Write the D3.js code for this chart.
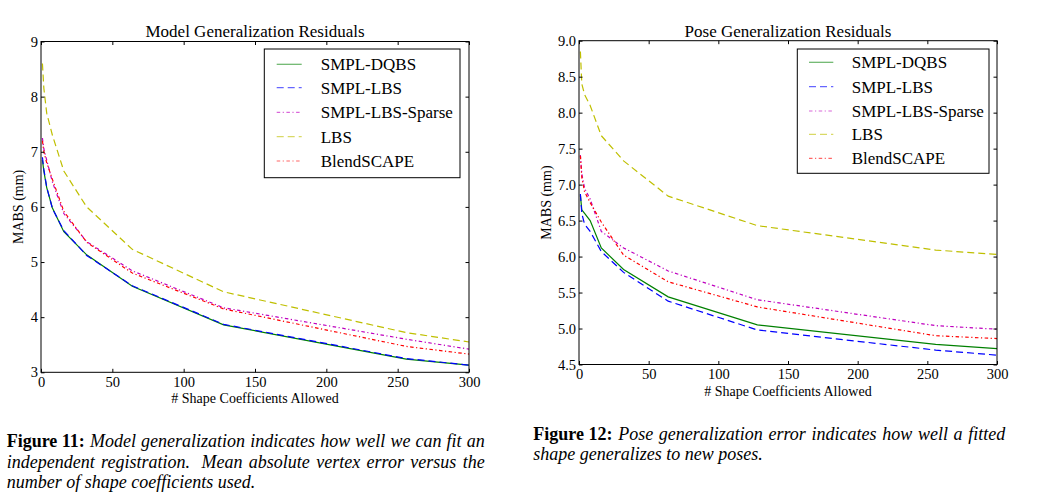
<!DOCTYPE html>
<html><head><meta charset="utf-8">
<script src="https://cdn.jsdelivr.net/npm/d3@7"></script>
<style>
body{margin:0;background:#fff}
svg{display:block}
text{font-family:"Liberation Serif","Times New Roman",serif;fill:#000}
</style>
</head><body><svg id="c" width="1052" height="498"></svg>
<script>
// ---------- data ----------
const shapeCoeffs = [1, 2, 4, 8, 16, 32, 64, 128, 256, 300];
const seriesNames = ["SMPL-DQBS", "SMPL-LBS", "SMPL-LBS-Sparse", "LBS", "BlendSCAPE"];
const seriesColors = ["#008000", "#0000ff", "#bf00bf", "#bfbf00", "#ff0000"];
const seriesDashes = [null, "7,4", "3.5,2.5,1.2,2.5", "7,4", "3.5,2.5,1.2,2.5"];

// Model generalization (MABS mm)
const modelDQBS       = [6.85, 6.65, 6.35, 5.98, 5.55, 5.13, 4.56, 3.86, 3.24, 3.13];
const modelLBS        = [6.90, 6.68, 6.36, 5.97, 5.57, 5.12, 4.57, 3.87, 3.25, 3.13];
const modelSparse     = [7.25, 7.05, 6.85, 6.45, 5.88, 5.37, 4.84, 4.17, 3.60, 3.42];
const modelBaseLBS    = [8.60, 8.15, 7.70, 7.30, 6.65, 6.00, 5.23, 4.46, 3.72, 3.55];
const modelBlendSCAPE = [7.20, 7.00, 6.80, 6.50, 5.92, 5.36, 4.80, 4.15, 3.47, 3.33];

// Pose generalization (MABS mm)
const poseDQBS        = [6.85, 6.65, 6.60, 6.50, 6.12, 5.82, 5.44, 5.05, 4.78, 4.72];
const poseLBS         = [6.87, 6.60, 6.45, 6.35, 6.07, 5.78, 5.38, 4.98, 4.70, 4.63];
const poseSparse      = [7.41, 7.15, 6.95, 6.80, 6.35, 6.12, 5.80, 5.40, 5.04, 4.99];
const poseBaseLBS     = [8.85, 8.40, 8.25, 8.10, 7.68, 7.33, 6.84, 6.43, 6.09, 6.03];
const poseBlendSCAPE  = [7.40, 7.10, 6.90, 6.75, 6.48, 6.02, 5.65, 5.30, 4.90, 4.86];

const xTicks = [0, 50, 100, 150, 200, 250, 300];
const modelYTicks = [3, 4, 5, 6, 7, 8, 9];
const poseYTicks = [4.5, 5.0, 5.5, 6.0, 6.5, 7.0, 7.5, 8.0, 8.5, 9.0];

const titles = ["Model Generalization Residuals", "Pose Generalization Residuals"];
const xAxisLabel = "# Shape Coefficients Allowed";
const yAxisLabel = "MABS (mm)";

const captionLeft = [
  {bold: "Figure 11:", text: "Model generalization indicates how well we can fit an", justify: true},
  {bold: "", text: "independent registration.  Mean absolute vertex error versus the", justify: true},
  {bold: "", text: "number of shape coefficients used.", justify: false}
];
const captionRight = [
  {bold: "Figure 12:", text: "Pose generalization error indicates how well a fitted", justify: true},
  {bold: "", text: "shape generalizes to new poses.", justify: false}
];

// ---------- drawing ----------
const svg = d3.select("#c");

function panel(cfg) {
  const x = d3.scaleLinear().domain([0, 300]).range([cfg.x0, cfg.x1]);
  const y = d3.scaleLinear().domain(cfg.yDomain).range([cfg.yBot, cfg.yTop]);
  const g = svg.append("g");
  const tick = 3.5;

  const line = d3.line().x((d, i) => x(shapeCoeffs[i])).y(d => y(d));
  cfg.series.forEach((s, k) => {
    g.append("path").attr("d", line(s)).attr("fill", "none")
      .attr("stroke", seriesColors[k]).attr("stroke-width", 1.2)
      .attr("stroke-dasharray", seriesDashes[k]);
  });

  const ax = [
    g.append("g").attr("transform", `translate(0,${cfg.yBot})`)
      .call(d3.axisBottom(x).tickValues(xTicks).tickSize(-tick).tickPadding(4.5).tickFormat(d3.format("d"))),
    g.append("g").attr("transform", `translate(0,${cfg.yTop})`)
      .call(d3.axisTop(x).tickValues(xTicks).tickSize(-tick).tickFormat("")),
    g.append("g").attr("transform", `translate(${cfg.x0},0)`)
      .call(d3.axisLeft(y).tickValues(cfg.yTicks).tickSize(-tick).tickPadding(3).tickFormat(d3.format(cfg.yFmt))),
    g.append("g").attr("transform", `translate(${cfg.x1},0)`)
      .call(d3.axisRight(y).tickValues(cfg.yTicks).tickSize(-tick).tickFormat(""))
  ];
  ax.forEach(a => {
    a.select(".domain").remove();
    a.selectAll("line").attr("stroke", "#000");
    a.selectAll("text").attr("font-size", 14.5).attr("font-family", '"Liberation Serif","Times New Roman",serif').attr("fill", "#000");
  });
  g.append("rect").attr("x", cfg.x0).attr("y", cfg.yTop)
    .attr("width", cfg.x1 - cfg.x0).attr("height", cfg.yBot - cfg.yTop)
    .attr("fill", "none").attr("stroke", "#000").attr("stroke-width", 1);

  g.append("text").attr("x", (cfg.x0 + cfg.x1) / 2).attr("y", 37)
    .attr("text-anchor", "middle").attr("font-size", 17).text(cfg.title);
  g.append("text").attr("x", (cfg.x0 + cfg.x1) / 2).attr("y", cfg.yBot + 31)
    .attr("text-anchor", "middle").attr("font-size", 14).text(xAxisLabel);
  g.append("text").attr("transform", `translate(${cfg.ylabX},${(cfg.yTop + cfg.yBot) / 2}) rotate(-90)`)
    .attr("text-anchor", "middle").attr("font-size", 14).text(yAxisLabel);

  const L = cfg.legend;
  g.append("rect").attr("x", L.x).attr("y", L.y).attr("width", L.w).attr("height", L.h)
    .attr("fill", "#fff").attr("stroke", "#000").attr("stroke-width", 1);
  seriesNames.forEach((n, k) => {
    const cy = L.rows[k];
    g.append("line").attr("x1", L.lx0).attr("x2", L.lx1).attr("y1", cy).attr("y2", cy)
      .attr("stroke", seriesColors[k]).attr("stroke-width", 1.2).attr("stroke-opacity", 0.6)
      .attr("stroke-dasharray", seriesDashes[k]);
    g.append("text").attr("x", L.tx).attr("y", cy + 6).attr("font-size", 17).text(n);
  });
}

panel({
  x0: 41, x1: 469, yTop: 41.5, yBot: 372.3, yDomain: [3, 9], yTicks: modelYTicks, yFmt: "d",
  title: titles[0], ylabX: 22.6,
  series: [modelDQBS, modelLBS, modelSparse, modelBaseLBS, modelBlendSCAPE],
  legend: {x: 264.3, y: 49, w: 195.7, h: 128.7, lx0: 276.7, lx1: 301.7, tx: 320.7,
           rows: [64.3, 87.7, 112.3, 136.7, 161]}
});
panel({
  x0: 579, x1: 997, yTop: 40.7, yBot: 364.5, yDomain: [4.5, 9], yTicks: poseYTicks, yFmt: ".1f",
  title: titles[1], ylabX: 551.3,
  series: [poseDQBS, poseLBS, poseSparse, poseBaseLBS, poseBlendSCAPE],
  legend: {x: 797.3, y: 49, w: 191.7, h: 124.3, lx0: 809, lx1: 833.3, tx: 851.7,
           rows: [62.3, 86.7, 111, 134.3, 158.3]}
});

// captions (justified; wider space after a sentence end marked by two spaces)
function caption(x0, width, lines, baseY, lh) {
  lines.forEach((ln, i) => {
    const yy = baseY + i * lh;
    const words = [];
    if (ln.bold) words.push({t: ln.bold, b: true, extra: 0});
    ln.text.split(" ").forEach(t => {
      if (t === "") { if (words.length) words[words.length - 1].extra += 0.8; }
      else words.push({t, b: false, extra: 0});
    });
    const nodes = words.map(w => svg.append("text").attr("y", yy).attr("font-size", 18)
      .attr("font-weight", w.b ? "bold" : "normal")
      .attr("font-style", w.b ? "normal" : "italic").text(w.t));
    const widths = nodes.map(n => n.node().getComputedTextLength());
    const total = d3.sum(widths);
    const weights = words.slice(0, -1).map(w => 1 + w.extra);
    const unit = ln.justify ? (width - total) / d3.sum(weights) : 4.5;
    let cx = x0;
    nodes.forEach((n, k) => { n.attr("x", cx); cx += widths[k] + (k < weights.length ? unit * weights[k] : 0); });
  });
}
caption(6.7, 478, captionLeft, 447, 20.5);
caption(533.3, 472, captionRight, 439.5, 20.5);
</script>
</body></html>
